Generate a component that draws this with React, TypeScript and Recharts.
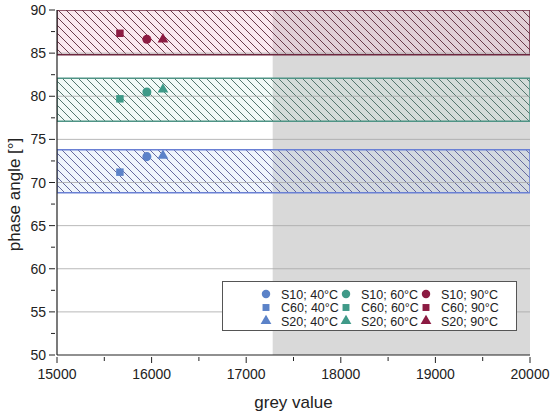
import React from "react";
import {
  ComposedChart,
  Scatter,
  XAxis,
  YAxis,
  ReferenceArea,
  ReferenceLine,
  Symbols,
} from "recharts";

// ---------- data ----------
const materials = ["S10", "C60", "S20"];
const materialShapes = ["circle", "square", "triangle"];
const temperatures = ["40°C", "60°C", "90°C"];
const greyValues = [15950, 15665, 16120]; // S10, C60, S20
const phase40 = [73.0, 71.2, 73.1];
const phase60 = [80.5, 79.7, 80.8];
const phase90 = [86.6, 87.3, 86.6];
const band40 = [68.8, 73.8];
const band60 = [77.1, 82.1];
const band90 = [84.8, 90.0];
const shadedFrom = 17280;
const xDomain = [15000, 20000];
const yDomain = [50, 90];
const xTicks = [15000, 15500, 16000, 16500, 17000, 17500, 18000, 18500, 19000, 19500, 20000];
const yTicks = [50, 52.5, 55, 57.5, 60, 62.5, 65, 67.5, 70, 72.5, 75, 77.5, 80, 82.5, 85, 87.5, 90];
const gridValues = [55, 60, 65, 70, 75, 80, 85];

// ---------- styles ----------
const tempColors = ["#5b82c8", "#3f9a88", "#8c1b42"];
const bandBorders = ["#6a80d4", "#4f9486", "#6e2840"];
const hatchColors = ["#66699e", "#54766e", "#6a3a4a"];
const bandBg = ["rgba(190,215,245,0.25)", "rgba(190,230,215,0.2)", "rgba(240,190,210,0.35)"];
const FONT = "'Liberation Sans', Arial, sans-serif";

const phases = [phase40, phase60, phase90];
const bands = [band40, band60, band90];

const makeData = (tIdx: number, mIdx: number) => [
  { x: greyValues[mIdx], y: phases[tIdx][mIdx] },
];

const XTick = (props: any) => {
  const { x, y, payload } = props;
  const v = payload.value;
  const major = v % 1000 === 0;
  return (
    <g>
      <line x1={x} x2={x} y1={y} y2={y + (major ? 6 : 4)} stroke="#222" strokeWidth={1} />
      {major && (
        <text x={x} y={y + 22} textAnchor="middle" fontSize={14} fill="#222" fontFamily={FONT}>
          {v}
        </text>
      )}
    </g>
  );
};

const YTick = (props: any) => {
  const { x, y, payload } = props;
  const v = payload.value;
  const major = v % 5 === 0;
  return (
    <g>
      <line x1={x - (major ? 6 : 4)} x2={x} y1={y} y2={y} stroke="#222" strokeWidth={1} />
      {major && (
        <text x={x - 9} y={y + 5} textAnchor="end" fontSize={14} fill="#222" fontFamily={FONT}>
          {v}
        </text>
      )}
    </g>
  );
};

const makeShape = (type: string, color: string) => (props: any) => {
  const { cx, cy } = props;
  const size = type === "triangle" ? 50 : type === "square" ? 56 : 64;
  return <Symbols cx={cx} cy={cy} type={type as any} size={size} fill={color} stroke="none" />;
};

const LegendBox = () => (
  <div
    style={{
      position: "absolute",
      left: 222,
      top: 281,
      width: 295,
      height: 50,
      border: "1px solid #555",
      background: "#fff",
      boxSizing: "border-box",
    }}
  >
    <svg width={295} height={50} style={{ position: "absolute", left: -1, top: -1 }}>
      {temperatures.map((t, ti) =>
        materials.map((m, mi) => {
          const sx = 44 + ti * 80;
          const sy = 13 + mi * 13.5;
          const type = materialShapes[mi];
          const size = type === "triangle" ? 50 : type === "square" ? 48 : 56;
          return (
            <g key={`${ti}-${mi}`}>
              <Symbols cx={sx} cy={sy} type={type as any} size={size} fill={tempColors[ti]} />
              <text x={sx + 15} y={sy + 4.5} fontSize={12.5} fill="#222" fontFamily={FONT}>
                {`${m}; ${t}`}
              </text>
            </g>
          );
        })
      )}
    </svg>
  </div>
);

export default function App() {
  return (
    <div style={{ position: "absolute", left: 0, top: 0, width: 550, height: 414, background: "#fff" }}>
      <svg width={0} height={0} style={{ position: "absolute" }}>
        <defs>
          {bands.map((_, i) => (
            <pattern key={i} id={`hatch${i}`} patternUnits="userSpaceOnUse" width={8} height={8}>
              <rect x={0} y={0} width={8} height={8} fill={bandBg[i]} />
              <path
                d="M0,0 L8,8 M-1,7 L1,9 M7,-1 L9,1"
                stroke={hatchColors[i]}
                strokeWidth={1}
                fill="none"
              />
            </pattern>
          ))}
        </defs>
      </svg>
      <ComposedChart
        width={550}
        height={414}
        margin={{ top: 10, right: 20, bottom: 0, left: 0 }}
        style={{ fontFamily: FONT }}
      >
        <XAxis
          type="number"
          dataKey="x"
          domain={xDomain}
          ticks={xTicks}
          interval={0}
          allowDataOverflow
          height={59}
          tickSize={0}
          tickLine={false}
          tick={<XTick />}
          axisLine={{ stroke: "#222", strokeWidth: 1.2 }}
          label={{
            value: "grey value",
            position: "insideBottom",
            offset: 6,
            fontSize: 17,
            fill: "#222",
            fontFamily: FONT,
          }}
        />
        <YAxis
          type="number"
          dataKey="y"
          domain={yDomain}
          ticks={yTicks}
          interval={0}
          allowDataOverflow
          width={57}
          tickSize={0}
          tickLine={false}
          tick={<YTick />}
          axisLine={{ stroke: "#222", strokeWidth: 1.2 }}
          label={{
            value: "phase angle [°]",
            angle: -90,
            position: "insideLeft",
            offset: 14,
            dy: 12,
            fontSize: 17,
            fill: "#222",
            fontFamily: FONT,
            style: { textAnchor: "middle" },
          }}
        />
        <YAxis
          yAxisId="right"
          orientation="right"
          type="number"
          domain={yDomain}
          width={0}
          tick={false}
          tickLine={false}
          axisLine={{ stroke: "#222", strokeWidth: 1.2 }}
        />
        <ReferenceArea
          x1={shadedFrom}
          x2={xDomain[1]}
          y1={yDomain[0]}
          y2={yDomain[1]}
          fill="#d9d9d9"
          fillOpacity={1}
          stroke="none"
          ifOverflow="hidden"
        />
        {bands.map((b, i) => (
          <ReferenceArea
            key={`band${i}`}
            x1={xDomain[0]}
            x2={xDomain[1]}
            y1={b[0]}
            y2={b[1]}
            fill={`url(#hatch${i})`}
            fillOpacity={1}
            stroke={bandBorders[i]}
            strokeWidth={1.5}
            ifOverflow="hidden"
          />
        ))}
        {gridValues.map((g) => (
          <ReferenceLine key={`g${g}`} y={g} stroke="#a8a8a8" strokeWidth={1} strokeOpacity={0.8} />
        ))}
        {temperatures.map((t, ti) =>
          materials.map((m, mi) => (
            <Scatter
              key={`${m}-${t}`}
              name={`${m}; ${t}`}
              data={makeData(ti, mi)}
              fill={tempColors[ti]}
              shape={makeShape(materialShapes[mi], tempColors[ti])}
              isAnimationActive={false}
            />
          ))
        )}
      </ComposedChart>
      <LegendBox />
    </div>
  );
}
